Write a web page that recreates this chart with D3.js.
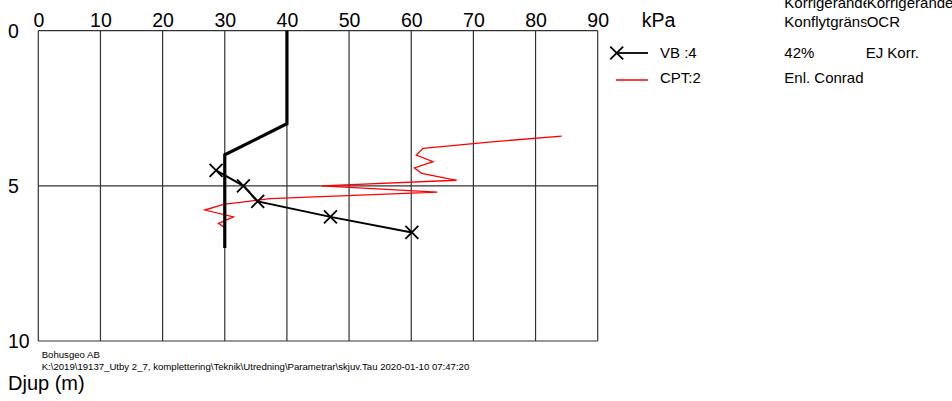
<!DOCTYPE html>
<html>
<head>
<meta charset="utf-8">
<script src="https://cdn.jsdelivr.net/npm/d3@7"></script>
<style>
  body { margin: 0; background: #fff; }
  svg { display: block; font-family: "Liberation Sans", Arial, sans-serif; }
</style>
</head>
<body>
<div id="chart"></div>
<script>
// data
var kpaTicks = [0, 10, 20, 30, 40, 50, 60, 70, 80, 90];
var depthTicks = [0, 5, 10];

// thick profile line
var profileKpa = [40, 40, 30, 30];
var profileDepth = [0, 3, 4, 7];

// vane test VB :4
var vbKpa = [28.6, 33.0, 35.3, 47.0, 60.1];
var vbDepth = [4.5, 5.0, 5.5, 6.0, 6.5];

// CPT:2 (Enl. Conrad)
var cptKpa = [84.2, 73.0, 61.9, 60.8, 63.5, 60.5, 61.7, 67.3, 45.6, 64.2, 37.3, 29.8, 26.8, 31.4, 29.0, 30.0];
var cptDepth = [3.40, 3.58, 3.79, 4.01, 4.22, 4.42, 4.60, 4.82, 5.0, 5.2, 5.41, 5.6, 5.78, 6.0, 6.21, 6.35];

var width = 952, height = 401;

var svg = d3.select("#chart")
  .append("svg")
    .attr("width", width)
    .attr("height", height);

var x = d3.scaleLinear().domain([0, 90]).range([38.3, 597.7]);
var y = d3.scaleLinear().domain([0, 10]).range([30.7, 341]);

// grid
svg.append("g")
  .selectAll("line")
  .data(kpaTicks)
  .enter().append("line")
    .attr("x1", function(d) { return x(d); })
    .attr("x2", function(d) { return x(d); })
    .attr("y1", y(0)).attr("y2", y(10))
    .attr("stroke", "#333").attr("stroke-width", 1.2);

svg.append("g")
  .selectAll("line")
  .data(depthTicks)
  .enter().append("line")
    .attr("x1", x(0)).attr("x2", x(90))
    .attr("y1", function(d) { return y(d); })
    .attr("y2", function(d) { return y(d); })
    .attr("stroke", "#333").attr("stroke-width", 1.2);

// top axis labels
var xAxis = svg.append("g")
  .attr("transform", "translate(0," + y(0) + ")")
  .call(d3.axisTop(x).tickValues(kpaTicks).tickSize(0).tickPadding(4));
xAxis.select(".domain").remove();
xAxis.selectAll("text")
  .attr("font-family", "Liberation Sans, Arial, sans-serif")
  .attr("font-size", 19.5)
  .attr("fill", "#000");

svg.append("text")
  .attr("x", 641.7).attr("y", 26.7)
  .attr("font-size", 19.5)
  .text("kPa");

// depth labels
svg.append("g")
  .selectAll("text")
  .data(depthTicks)
  .enter().append("text")
    .attr("x", 8)
    .attr("y", function(d) { return y(d); })
    .attr("dy", "0.36em")
    .attr("font-size", 19.5)
    .text(function(d) { return d; });

svg.append("text")
  .attr("x", 8).attr("y", 390)
  .attr("font-size", 20)
  .text("Djup (m)");

// footer
svg.append("text")
  .attr("x", 41.7).attr("y", 358.3)
  .attr("font-size", 9.6)
  .text("Bohusgeo AB");
svg.append("text")
  .attr("x", 41.7).attr("y", 369.5)
  .attr("font-size", 9.6)
  .text("K:\\2019\\19137_Utby 2_7, komplettering\\Teknik\\Utredning\\Parametrar\\skjuv.Tau  2020-01-10 07:47:20");

var line = d3.line()
  .x(function(d) { return x(d[0]); })
  .y(function(d) { return y(d[1]); });

// CPT
svg.append("path")
  .datum(d3.zip(cptKpa, cptDepth))
  .attr("fill", "none")
  .attr("stroke", "#ff0000")
  .attr("stroke-width", 1.3)
  .attr("d", line);

// profile
svg.append("path")
  .datum(d3.zip(profileKpa, profileDepth))
  .attr("fill", "none")
  .attr("stroke", "#000")
  .attr("stroke-width", 3.2)
  .attr("d", line);

// VB line + crosses
var vb = d3.zip(vbKpa, vbDepth);
svg.append("path")
  .datum(vb)
  .attr("fill", "none")
  .attr("stroke", "#000")
  .attr("stroke-width", 2)
  .attr("d", line);

var cross = d3.symbol().type(d3.symbolX).size(110);
svg.append("g")
  .selectAll("path")
  .data(vb)
  .enter().append("path")
    .attr("transform", function(d) { return "translate(" + x(d[0]) + "," + y(d[1]) + ")"; })
    .attr("d", cross)
    .attr("fill", "none")
    .attr("stroke", "#000")
    .attr("stroke-width", 1.8);

// legend
svg.append("line")
  .attr("x1", 617).attr("x2", 648).attr("y1", 53).attr("y2", 53)
  .attr("stroke", "#000").attr("stroke-width", 1.8);
svg.append("path")
  .attr("transform", "translate(616.7,53)")
  .attr("d", cross)
  .attr("fill", "none").attr("stroke", "#000").attr("stroke-width", 1.8);
svg.append("line")
  .attr("x1", 616).attr("x2", 648).attr("y1", 80).attr("y2", 80)
  .attr("stroke", "#ff0000").attr("stroke-width", 1.5);

var legendText = [
  {x: 660, y: 58.3, t: "VB :4"},
  {x: 660, y: 83.3, t: "CPT:2"},
  {x: 784.3, y: 58.3, t: "42%"},
  {x: 865.7, y: 58.3, t: "EJ Korr."},
  {x: 784.3, y: 83.3, t: "Enl. Conrad"}
];
svg.append("g")
  .selectAll("text")
  .data(legendText)
  .enter().append("text")
    .attr("x", function(d) { return d.x; })
    .attr("y", function(d) { return d.y; })
    .attr("font-size", 15)
    .text(function(d) { return d.t; });

// header cells, clipped like the original
var defs = svg.append("defs");
defs.append("clipPath").attr("id", "c1")
  .append("rect").attr("x", 784).attr("y", 0).attr("width", 82.5).attr("height", 40);
defs.append("clipPath").attr("id", "c2")
  .append("rect").attr("x", 866.5).attr("y", 0).attr("width", 90).attr("height", 40);

var head = svg.append("g").attr("font-size", 15);
head.append("text").attr("clip-path", "url(#c1)")
  .attr("x", 784.3).attr("y", 8).text("Korrigerande");
head.append("text").attr("clip-path", "url(#c1)")
  .attr("x", 784.3).attr("y", 26.7).text("Konflytgräns");
head.append("text").attr("clip-path", "url(#c2)")
  .attr("x", 866.7).attr("y", 8).text("Korrigerande");
head.append("text").attr("clip-path", "url(#c2)")
  .attr("x", 866.7).attr("y", 26.7).text("OCR");
</script>
</body>
</html>
